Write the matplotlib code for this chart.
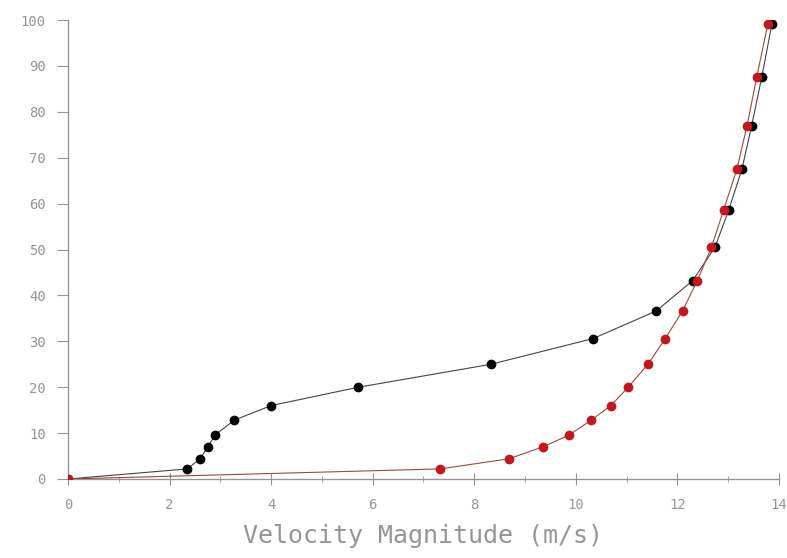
import matplotlib
matplotlib.use("Agg")
import matplotlib.pyplot as plt
from matplotlib.ticker import MultipleLocator

# heights (y) shared by both profiles
heights = [0, 2.2, 4.4, 7.0, 9.6, 12.8, 16.0, 20.0, 25.0, 30.6, 36.6, 43.2,
           50.5, 58.6, 67.5, 76.9, 87.5, 99.1]

# velocity magnitude, black profile
vel_black = [0, 2.35, 2.6, 2.75, 2.9, 3.27, 4.0, 5.72, 8.33, 10.34, 11.58, 12.3,
             12.74, 13.01, 13.27, 13.46, 13.66, 13.86]

# velocity magnitude, red profile
vel_red = [0, 7.33, 8.68, 9.35, 9.87, 10.3, 10.69, 11.03, 11.42, 11.76, 12.1, 12.39,
           12.67, 12.91, 13.17, 13.37, 13.56, 13.78]

xlabel = "Velocity Magnitude (m/s)"
gray = "#959595"

fig = plt.figure(figsize=(7.87, 5.58), dpi=100)
ax = fig.add_axes([68 / 787, 1 - 479 / 558, (779 - 68) / 787, (479 - 20) / 558])

ax.plot(vel_black, heights, color="#444444", lw=0.8, marker="o", ms=6,
        mfc="black", mec="black", zorder=2)
ax.plot(vel_red, heights, color="#9a4a3a", lw=0.8, marker="o", ms=6,
        mfc="#c4161c", mec="#c4161c", zorder=3)

ax.set_xlim(0, 14)
ax.set_ylim(0, 100)
ax.xaxis.set_major_locator(MultipleLocator(2))
ax.xaxis.set_minor_locator(MultipleLocator(1))
ax.yaxis.set_major_locator(MultipleLocator(10))

for s in ["top", "right"]:
    ax.spines[s].set_visible(False)
for s in ["left", "bottom"]:
    ax.spines[s].set_color(gray)
    ax.spines[s].set_linewidth(1.0)

ax.tick_params(axis="y", direction="out", length=8, color=gray, labelcolor=gray,
               labelsize=10, pad=8)
ax.tick_params(axis="x", which="major", direction="inout", length=8, color=gray,
               labelcolor=gray, labelsize=10, pad=10)
ax.tick_params(axis="x", which="minor", direction="inout", length=5, color=gray)
for lab in ax.get_xticklabels() + ax.get_yticklabels():
    lab.set_family("DejaVu Sans Mono")

ax.set_xlabel(xlabel, family="DejaVu Sans Mono", fontsize=18, color=gray, labelpad=8)

fig.savefig("out.png", dpi=100)
